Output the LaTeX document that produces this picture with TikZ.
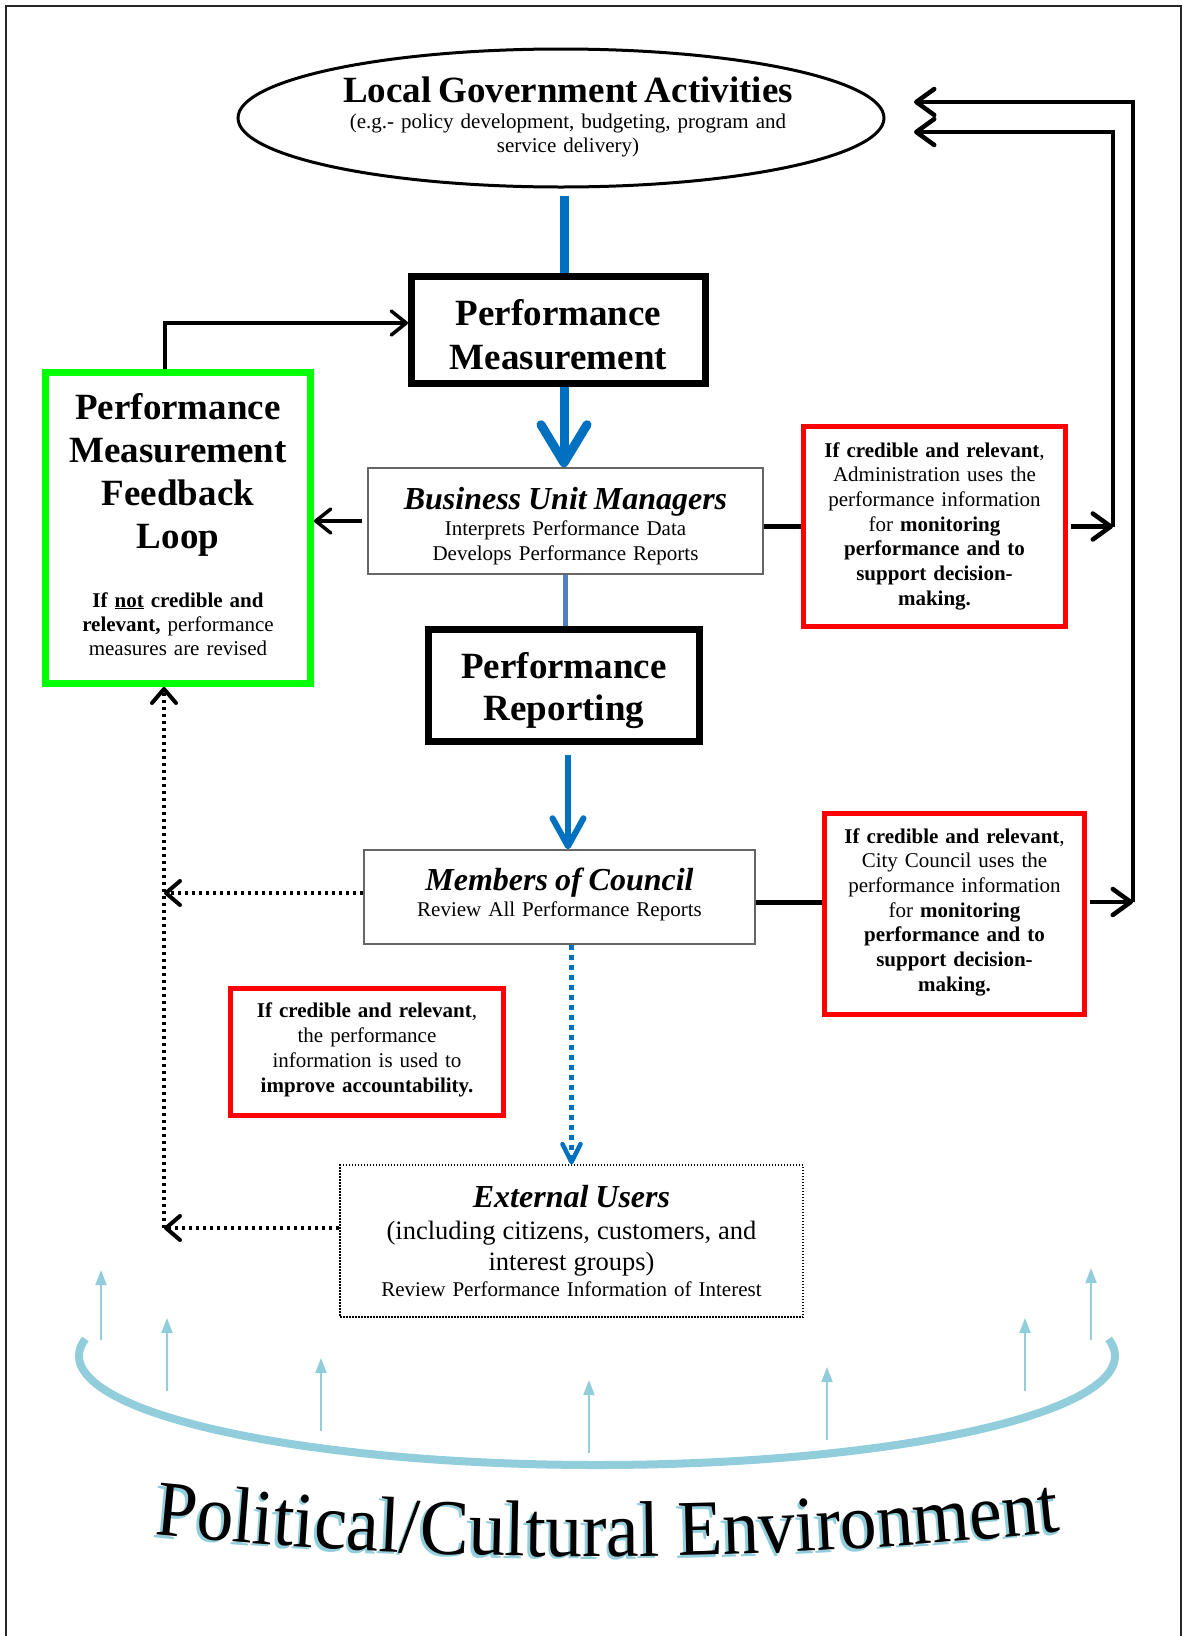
\documentclass[tikz,border=0pt]{standalone}
\usepackage{fontspec}
\setmainfont{Liberation Serif}
\newfontfamily\envfamily[FakeStretch=0.93]{Liberation Serif}
\usetikzlibrary{shapes.geometric,arrows.meta,decorations.text}
\setlength{\parskip}{0pt}
\newcommand\fs[2]{\fontsize{#1}{#2}\selectfont}
\definecolor{mblue}{RGB}{0,112,192}
\definecolor{sblue}{RGB}{79,129,189}
\definecolor{envblue}{RGB}{146,205,220}
\definecolor{boxgreen}{RGB}{0,255,0}
\definecolor{boxred}{RGB}{255,0,0}
\begin{document}
\begin{tikzpicture}[x=1pt,y=-1pt,
  heavybox/.style={draw, line width=7pt, inner sep=0pt},
  plainbox/.style={draw=black!60, line width=1.5pt, inner sep=0pt},
  redbox/.style={draw=boxred, line width=5pt, inner sep=0pt},
  greenbox/.style={draw=boxgreen, line width=7pt, inner sep=0pt},
  dotbox/.style={draw, line width=1.3pt, dash pattern=on 1.5pt off 1.5pt, inner sep=0pt},
  txt/.style={inner sep=0pt, align=center, anchor=base, font=\fs{21}{24}},
  conn/.style={line width=3.5pt, -{Straight Barb[length=15pt,width=24pt,round]}},
  loopline/.style={line width=4.5pt, -{Straight Barb[length=18pt,width=26pt,round]}},
  heavyline/.style={line width=5pt},
  dotconn/.style={line width=4pt, dash pattern=on 3.5pt off 3.5pt, -{Straight Barb[length=14pt,width=24pt,round]}},
  blueline/.style={draw=mblue, line width=9pt},
  bigblue/.style={draw=mblue, line width=9pt, -{Straight Barb[length=38pt,width=46pt,round]}},
  midblue/.style={draw=mblue, line width=6pt, -{Straight Barb[length=28pt,width=31pt,round]}},
  bluedots/.style={draw=mblue, line width=4.5pt, dash pattern=on 5pt off 5pt, -{Straight Barb[length=18pt,width=18pt,round]}},
  envarrow/.style={draw=envblue, line width=2pt, -{Triangle[length=15pt,width=11pt]}}
]
\useasboundingbox (0,0) rectangle (1183,1636);

% page frame
\draw[line width=2.5pt, black!85] (6,1660) -- (6,6) -- (1181,6) -- (1181,1660);

% activities ellipse
\node[draw, ellipse, line width=3pt, minimum width=646pt, minimum height=138pt, inner sep=0pt] (lga) at (561,118) {};
\node[txt, text width=620pt] (lgat) at (568,102)
  {{\fs{37}{40}\bfseries Local Government Activities\par}\vspace{2pt}(e.g.- policy development, budgeting, program and\\service delivery)};

% boxes
\node[heavybox, minimum width=294pt, minimum height=107pt] (pm) at (558.5,330) {};
\node[txt, text width=290pt, font=\fs{37}{43.5}\bfseries] (pmt) at (558.5,325.5) {Performance\\Measurement};

\node[plainbox, minimum width=395pt, minimum height=106pt] (bum) at (565.5,521) {};
\node[txt, text width=390pt, font=\fs{21}{25}] (bumt) at (565.5,509)
  {{\fs{32}{35}\bfseries\itshape Business Unit Managers\par}\vspace{1pt}Interprets Performance Data\\Develops Performance Reports};

\node[heavybox, minimum width=271pt, minimum height=112pt] (pr) at (564,685.5) {};
\node[txt, text width=265pt, font=\fs{37}{42}\bfseries] (prt) at (564,678) {Performance\\Reporting};

\node[plainbox, minimum width=391pt, minimum height=94pt] (moc) at (559.5,897) {};
\node[txt, text width=385pt] (moct) at (559.5,890)
  {{\fs{32}{35}\bfseries\itshape Members of Council\par}\vspace{2pt}Review All Performance Reports};

\node[dotbox, minimum width=463pt, minimum height=152pt] (ext) at (571.5,1241) {};
\node[txt, text width=455pt] (extt) at (571.5,1207)
  {{\fs{32}{35}\bfseries\itshape External Users\par}\vspace{1pt}{\fs{26.5}{31}(including citizens, customers, and\\interest groups)\par}\vspace{2pt}Review Performance Information of Interest};

\node[greenbox, minimum width=265pt, minimum height=311pt] (fbl) at (178,528) {};
\node[txt, text width=255pt] (fblt) at (178,419)
  {{\fs{37}{43}\bfseries Performance\\Measurement\\Feedback\\Loop\par}\vspace{35pt}\textbf{If \underline{not} credible and}\\\textbf{relevant,} performance\\measures are revised};

\node[redbox, minimum width=262pt, minimum height=200pt] (adm) at (934.5,526.5) {};
\node[txt, text width=255pt, font=\fs{21}{24.7}] (admt) at (934.5,457)
  {\textbf{If credible and relevant},\\Administration uses the\\performance information\\for \textbf{monitoring}\\\textbf{performance and to}\\\textbf{support decision-}\\\textbf{making.}};

\node[redbox, minimum width=260pt, minimum height=201pt] (cou) at (954.5,914) {};
\node[txt, text width=255pt, font=\fs{21}{24.7}] (cout) at (954.5,843)
  {\textbf{If credible and relevant},\\City Council uses the\\performance information\\for \textbf{monitoring}\\\textbf{performance and to}\\\textbf{support decision-}\\\textbf{making.}};

\node[redbox, minimum width=273pt, minimum height=127pt] (acc) at (367,1052) {};
\node[txt, text width=265pt, font=\fs{21}{25}] (acct) at (367,1017)
  {\textbf{If credible and relevant},\\the performance\\information is used to\\\textbf{improve accountability.}};

% main flow
\coordinate (lgafoot) at (564,196);
\draw[blueline] (lgafoot) -- (lgafoot |- pm.north);
\draw[bigblue] (pm.south -| lgafoot) -- (bum.north -| lgafoot);
\draw[draw=sblue, line width=5pt] (bum.south) -- (bum.south |- pr.north);
\coordinate (prfoot) at (568,755);
\draw[midblue] (prfoot) -- (prfoot |- moc.north);
\draw[bluedots] (moc.south -| ext.north) -- (ext.north);

% side links
\draw[conn, shorten <=5pt] (bum.west) -- (bum.west -| fbl.east);
\draw[heavyline] (bum.east |- adm.west) -- (adm.west);
\draw[heavyline] ([yshift=-5pt]moc.east) -- ([yshift=-5pt]moc.east -| cou.west);

% feedback loop
\coordinate (fbtop) at (165,323);
\draw[conn] (fbl.north -| fbtop) -- (fbtop) -- (fbtop -| pm.west);
\coordinate (fbtail) at (164,1228);
\draw[dotconn] ([yshift=4pt]moc.west) -- ([yshift=4pt]moc.west -| fbtail);
\draw[dotconn] (ext.west |- fbtail) -- (fbtail);
\draw[dotconn] (fbtail) -- (fbtail |- fbl.south);

% return paths to the activities
\coordinate (innerc) at (1113,132);
\coordinate (innerend) at (914,132);
\coordinate (outerc) at (1133,102);
\coordinate (outerend) at (914,102);
\draw[loopline, shorten <=3pt] (adm.east) -- (adm.east -| innerc);
\draw[loopline] (adm.east -| innerc) -- (innerc) -- (innerend);
\draw[loopline, shorten <=3pt] ([yshift=12pt]cou.east) -- ([yshift=12pt]cou.east -| outerc);
\draw[loopline] ([yshift=12pt]cou.east -| outerc) -- (outerc) -- (outerend);

% environment
\draw[draw=envblue, line width=8pt] plot[domain=171:369, samples=120, smooth] ({597+518*cos(\x)}, {1356-109*sin(\x)});
\foreach \ax/\ay/\az in {101/1340/1270, 167/1391/1318, 321/1431/1358, 589/1453/1380, 827/1440/1367, 1025/1391/1318, 1091/1340/1268}
  \draw[envarrow] (\ax,\ay) -- (\ax,\az);

\begin{scope}[shift={(-2.5,2.5)}]
\path[decorate, decoration={text along path, text align=center, text color=envblue,
  text={|\envfamily\fs{79}{80}|Political/Cultural Environment}}]
  (140,1533) .. controls (450,1565) and (760,1565) .. (1075,1530);
\end{scope}
\path[decorate, decoration={text along path, text align=center, text color=black,
  text={|\envfamily\fs{79}{80}|Political/Cultural Environment}}]
  (140,1533) .. controls (450,1565) and (760,1565) .. (1075,1530);
\end{tikzpicture}
\end{document}
